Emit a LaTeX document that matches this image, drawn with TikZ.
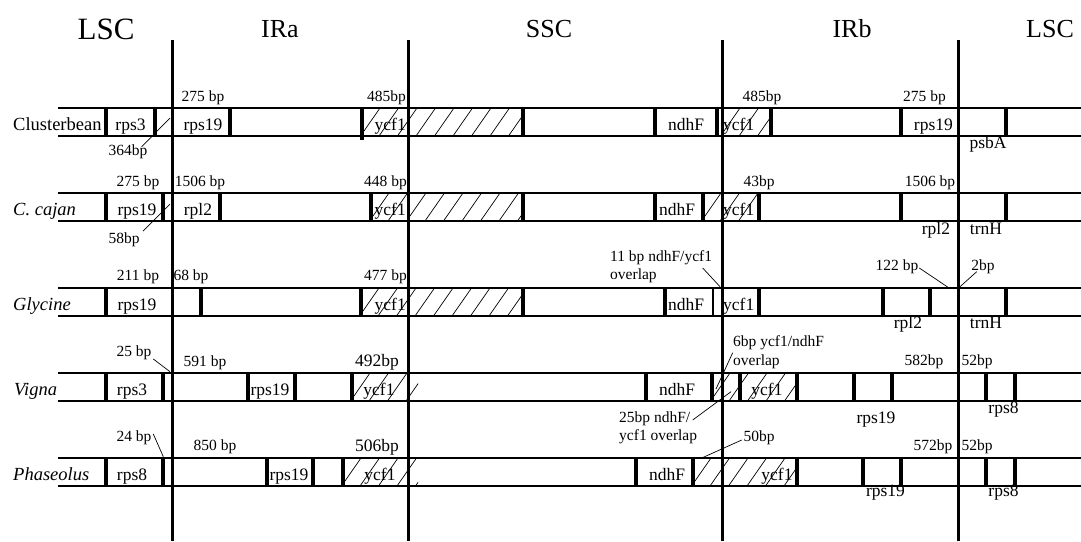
\documentclass[tikz,border=0pt]{standalone}
\usepackage{fontspec}
\setmainfont{Liberation Serif}
\tikzset{
  track/.style={line width=1.3pt},
  gbar/.style={line width=3.2pt},
  thinbar/.style={line width=1.4pt},
  junction/.style={line width=3pt},
  hatchline/.style={line width=0.7pt},
  leader/.style={line width=0.7pt},
  gene/.style={font=\fontsize{17.5}{20}\selectfont, inner sep=0pt, anchor=base},
  bp/.style={font=\fontsize{15.5}{17.6}\selectfont, inner sep=0pt, anchor=base},
  bpbig/.style={font=\fontsize{17.5}{20}\selectfont, inner sep=0pt, anchor=base},
  rowlab/.style={font=\fontsize{18.5}{22}\selectfont, inner sep=0pt, anchor=base west},
  regtitle/.style={font=\fontsize{26}{30}\selectfont, inner sep=0pt, anchor=base},
}
\newcommand{\hatchreg}[3]{%
  \begin{scope}
    \clip (#1,#2) rectangle (#3,{#2+28});
    \foreach \k in {0,...,9} \draw[hatchline] ({#1-20+\k*18.5},{#2+28}) -- ++(19.5,-28);
  \end{scope}}
\newcommand{\trackrow}[1]{%
  \draw[track] (58,#1) -- (1081,#1);
  \draw[track] (58,{#1+28}) -- (1081,{#1+28});}
\newcommand{\gbars}[2]{\foreach \xx in {#2} \draw[gbar] (\xx,#1) -- (\xx,{#1+28});}
\begin{document}
\begin{tikzpicture}[x=1pt,y=-1pt]
\useasboundingbox (0,0) rectangle (1081,541);
\fill[white] (0,0) rectangle (1081,541);

% ---------- hatching ----------
\hatchreg{362}{108}{523}
\hatchreg{722}{108}{771}
\hatchreg{371}{193}{523}
\hatchreg{703}{193}{759}
\hatchreg{361}{288}{523}
\hatchreg{352}{373}{418}
\hatchreg{712}{373}{797}
\hatchreg{343}{458}{418}
\hatchreg{693}{458}{797}

% ---------- tracks ----------
\trackrow{108}
\trackrow{193}
\trackrow{288}
\trackrow{373}
\trackrow{458}

% ---------- gene boundary bars ----------
\gbars{108}{106,155,230,523,655,717,771,901,1006}
\draw[gbar] (362,108) -- (362,140);
\gbars{193}{106,163,220,371,523,655,703,759,901,1006}
\gbars{288}{106,201,361,523,665,759,883,930,1006}
\draw[thinbar] (713,288) -- (713,316);
\gbars{373}{106,163,248,295,352,646,712,740,797,854,892,986,1015}
\gbars{458}{106,163,267,313,343,636,693,797,863,901,986,1015}

% ---------- junction lines ----------
\foreach \xx in {172,408,722,958} \draw[junction] (\xx,40) -- (\xx,541);

% ---------- region titles ----------
\node[regtitle, font=\fontsize{31}{34}\selectfont] (tLSCa) at (106,39) {LSC};
\node[regtitle] (tIRa) at (280,37) {IRa};
\node[regtitle] (tSSC) at (549,37) {SSC};
\node[regtitle] (tIRb) at (852,37) {IRb};
\node[regtitle] (tLSCb) at (1050,37) {LSC};

% ---------- row 1: Clusterbean ----------
\node[rowlab] (r1) at (13,130) {Clusterbean};
\node[gene] (g1a) at (130.5,130) {rps3};
\node[gene] (g1b) at (203,130) {rps19};
\node[gene, anchor=base east] (g1c) at (406,130) {ycf1};
\node[gene] (g1d) at (686,130) {ndhF};
\node[gene, anchor=base west] (g1e) at (723,130) {ycf1};
\node[gene, anchor=base east] (g1f) at (953,130) {rps19};
\node[gene] (g1g) at (988,148) {psbA};
\node[bp] (b1a) at (203,101) {275 bp};
\node[bp, anchor=base east] (b1b) at (406,101) {485bp};
\node[bp] (b1c) at (762,101) {485bp};
\node[bp] (b1d) at (924.5,101) {275 bp};
\node[bp] (b1e) at (128,155) {364bp};
\coordinate (s1e) at (141.7,146.7);
\coordinate (e1e) at (170,118);
\draw[leader] (s1e) -- (e1e);

% ---------- row 2: C. cajan ----------
\node[rowlab] (r2) at (13,215) {\itshape C. cajan};
\node[gene] (g2a) at (137,215) {rps19};
\node[gene] (g2b) at (198,215) {rpl2};
\node[gene, anchor=base east] (g2c) at (406,215) {ycf1};
\node[gene] (g2d) at (677,215) {ndhF};
\node[gene, anchor=base west] (g2e) at (723,215) {ycf1};
\node[gene] (g2f) at (936,234) {rpl2};
\node[gene] (g2g) at (986,234) {trnH};
\node[bp] (b2a) at (138,186) {275 bp};
\node[bp] (b2b) at (200,186) {1506 bp};
\node[bp, anchor=base east] (b2c) at (407,186) {448 bp};
\node[bp] (b2d) at (759,186) {43bp};
\node[bp] (b2e) at (930,186) {1506 bp};
\node[bp] (b2f) at (124,243) {58bp};
\coordinate (s2f) at (143,231);
\coordinate (e2f) at (170,204);
\draw[leader] (s2f) -- (e2f);

% ---------- row 3: Glycine ----------
\node[rowlab] (r3) at (13,310) {\itshape Glycine};
\node[gene] (g3a) at (137,310) {rps19};
\node[gene, anchor=base east] (g3b) at (406,310) {ycf1};
\node[gene] (g3c) at (686,310) {ndhF};
\node[gene, anchor=base west] (g3d) at (723,310) {ycf1};
\node[gene] (g3e) at (908,328) {rpl2};
\node[gene] (g3f) at (986,328) {trnH};
\node[bp] (b3a) at (138,280) {211 bp};
\node[bp] (b3b) at (191,280) {68 bp};
\node[bp, anchor=base east] (b3c) at (407,280) {477 bp};
\node[bp, anchor=base west] (b3d) at (610,261.7) {11 bp ndhF/ycf1};
\node[bp, anchor=base west] (b3d2) at (610,279.3) {overlap};
\coordinate (s3d) at (702.7,268);
\coordinate (e3d) at (720,286.7);
\draw[leader] (s3d) -- (e3d);
\node[bp] (b3e) at (897,270.7) {122 bp};
\coordinate (s3e) at (919.3,268);
\coordinate (e3e) at (948,287.3);
\draw[leader] (s3e) -- (e3e);
\node[bp] (b3f) at (983,270.7) {2bp};
\coordinate (s3f) at (976.7,271.7);
\coordinate (e3f) at (960,286.7);
\draw[leader] (s3f) -- (e3f);

% ---------- row 4: Vigna ----------
\node[rowlab] (r4) at (14,395) {\itshape Vigna};
\node[gene] (g4a) at (132,395) {rps3};
\node[gene] (g4b) at (270,395) {rps19};
\node[gene] (g4c) at (379,395) {ycf1};
\node[gene] (g4d) at (677,395) {ndhF};
\node[gene] (g4e) at (767,395) {ycf1};
\node[gene] (g4f) at (876,423) {rps19};
\node[gene] (g4g) at (1003.5,413) {rps8};
\node[bp] (b4a) at (134,356.7) {25 bp};
\coordinate (s4a) at (153.3,359);
\coordinate (e4a) at (170,371.7);
\draw[leader] (s4a) -- (e4a);
\node[bp] (b4b) at (205,366) {591 bp};
\node[bpbig] (b4c) at (377,366.7) {492bp};
\node[bp, anchor=base west] (b4d) at (733,346.7) {6bp ycf1/ndhF};
\node[bp, anchor=base west] (b4d2) at (733,365) {overlap};
\coordinate (s4d) at (732.7,352.7);
\coordinate (e4d) at (716,389);
\draw[leader] (s4d) -- (e4d);
\node[bp, anchor=base west] (b4e) at (619,422.7) {25bp ndhF/};
\node[bp, anchor=base west] (b4e2) at (619,440.7) {ycf1 overlap};
\coordinate (s4e) at (692.7,420);
\coordinate (e4e) at (731,391.7);
\draw[leader] (s4e) -- (e4e);
\node[bp] (b4f) at (924,365) {582bp};
\node[bp] (b4g) at (977,365) {52bp};

% ---------- row 5: Phaseolus ----------
\node[rowlab] (r5) at (13,480) {\itshape Phaseolus};
\node[gene] (g5a) at (132,480) {rps8};
\node[gene] (g5b) at (289,480) {rps19};
\node[gene] (g5c) at (380,480) {ycf1};
\node[gene] (g5d) at (667,480) {ndhF};
\node[gene] (g5e) at (777,480) {ycf1};
\node[gene] (g5f) at (885.5,496.7) {rps19};
\node[gene] (g5g) at (1003.5,496.7) {rps8};
\node[bp] (b5a) at (134,441.7) {24 bp};
\coordinate (s5a) at (153.3,434);
\coordinate (e5a) at (163.3,456.7);
\draw[leader] (s5a) -- (e5a);
\node[bp] (b5b) at (215,450) {850 bp};
\node[bpbig] (b5c) at (377,451.7) {506bp};
\node[bp] (b5d) at (759,441.7) {50bp};
\coordinate (s5d) at (741.7,440);
\coordinate (e5d) at (703.3,457.3);
\draw[leader] (s5d) -- (e5d);
\node[bp] (b5e) at (933,450.7) {572bp};
\node[bp] (b5f) at (977,450.7) {52bp};
\end{tikzpicture}
\end{document}
